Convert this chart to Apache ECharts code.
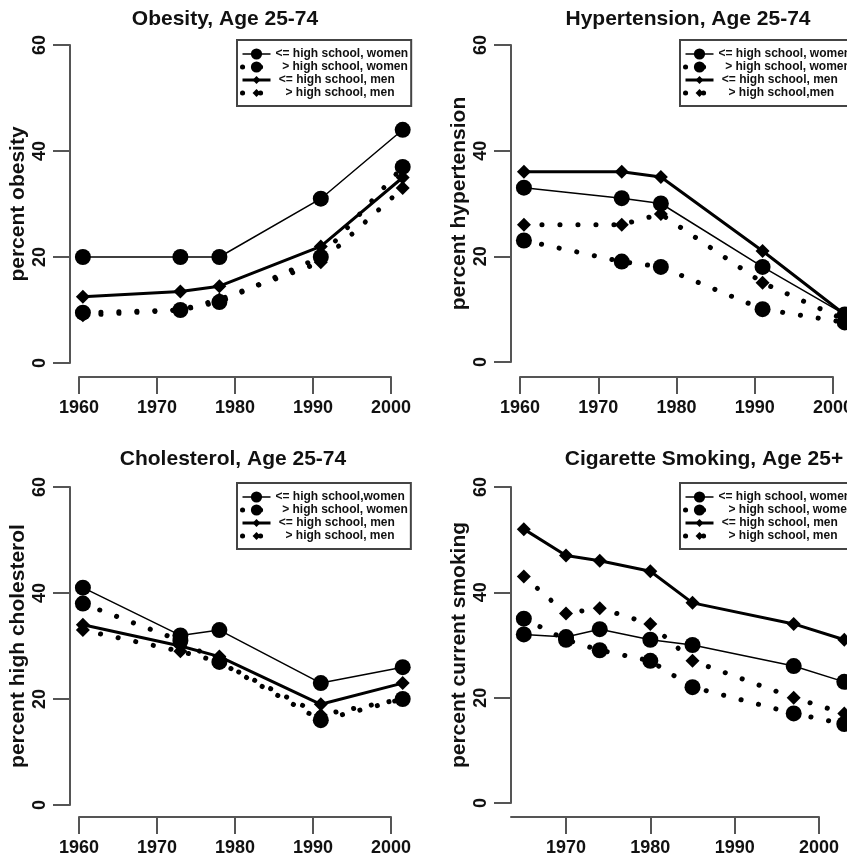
<!DOCTYPE html>
<html><head><meta charset="utf-8">
<script src="https://cdn.jsdelivr.net/npm/echarts@6/dist/echarts.min.js"></script>
<style>html,body{margin:0;padding:0;background:#fff}#c{width:847px;height:859px}</style>
</head><body><div id="c"></div>
<script>
// ---------------- data ----------------
const yearsSurvey = [1960.5, 1973, 1978, 1991, 2001.5];
const yearsSmoking = [1965, 1970, 1974, 1980, 1985, 1997, 2003];
const tickYears = [1960, 1970, 1980, 1990, 2000];
const tickYearsSmoking = [1970, 1980, 1990, 2000];
const tickPercent = [0, 20, 40, 60];

const titles = ['Obesity, Age 25-74', 'Hypertension, Age 25-74', 'Cholesterol, Age 25-74', 'Cigarette Smoking, Age 25+'];
const yTitles = ['percent obesity', 'percent hypertension', 'percent high cholesterol', 'percent current smoking'];

const obesityLegend = ['<= high school, women', '  > high school, women', ' <= high school, men', '   > high school, men'];
const hypertensionLegend = ['<= high school, women', '  > high school, women', ' <= high school, men', '   > high school,men'];
const cholesterolLegend = ['<= high school,women', '  > high school, women', ' <= high school, men', '   > high school, men'];
const smokingLegend = ['<= high school, women', '   > high school, women', ' <= high school, men', '   > high school, men'];

const obesityLowWomen = [20, 20, 20, 31, 44];
const obesityHighWomen = [9.5, 10, 11.5, 20, 37];
const obesityLowMen = [12.5, 13.5, 14.5, 22, 35];
const obesityHighMen = [9, 10, 12, 19, 33];

const hypertensionLowWomen = [33, 31, 30, 18, 9];
const hypertensionHighWomen = [23, 19, 18, 10, 7.5];
const hypertensionLowMen = [36, 36, 35, 21, 9];
const hypertensionHighMen = [26, 26, 28, 15, 8];

const cholesterolLowWomen = [41, 32, 33, 23, 26];
const cholesterolHighWomen = [38, 31, 27, 16, 20];
const cholesterolLowMen = [34, 30, 28, 19, 23];
const cholesterolHighMen = [33, 29, 27, 17, 20];

const smokingLowWomen = [32, 31.5, 33, 31, 30, 26, 23];
const smokingHighWomen = [35, 31, 29, 27, 22, 17, 15];
const smokingLowMen = [52, 47, 46, 44, 38, 34, 31];
const smokingHighMen = [43, 36, 37, 34, 27, 20, 17];

// ---------------- layout ----------------
const FONT = "'Liberation Sans', Arial, Helvetica, sans-serif";
const panels = [
  {axisX: 70, top: 45, bottom: 363, px0: 79, px1: 391, lineLeft: 79, lineRight: 391, lineY: 377,
   ticks: tickYears, titleX: 225, titleY: 9, legendX: 237, legendY: 40,
   x: yearsSurvey, legend: obesityLegend,
   series: [obesityLowWomen, obesityHighWomen, obesityLowMen, obesityHighMen]},
  {axisX: 511, top: 45, bottom: 362, px0: 520, px1: 833, lineLeft: 520, lineRight: 833, lineY: 377,
   ticks: tickYears, titleX: 688, titleY: 9, legendX: 680, legendY: 40,
   x: yearsSurvey, legend: hypertensionLegend,
   series: [hypertensionLowWomen, hypertensionHighWomen, hypertensionLowMen, hypertensionHighMen]},
  {axisX: 70, top: 487, bottom: 805, px0: 79, px1: 391, lineLeft: 79, lineRight: 391, lineY: 817,
   ticks: tickYears, titleX: 233, titleY: 449, legendX: 237, legendY: 483,
   x: yearsSurvey, legend: cholesterolLegend,
   series: [cholesterolLowWomen, cholesterolHighWomen, cholesterolLowMen, cholesterolHighMen]},
  {axisX: 511, top: 487, bottom: 803, px0: 566, px1: 819, lineLeft: 511, lineRight: 819, lineY: 817,
   ticks: tickYearsSmoking, titleX: 704, titleY: 449, legendX: 680, legendY: 483,
   x: yearsSmoking, legend: smokingLegend,
   series: [smokingLowWomen, smokingHighWomen, smokingLowMen, smokingHighMen]}
];

const DIAMOND = 'path://M0,0M20,20M10,3L17,10L10,17L3,10Z';
const styles = [
  {lineStyle: {width: 1.5, color: '#000', type: 'solid'}, symbol: 'circle', symbolSize: 16},
  {lineStyle: {width: 5, color: '#000', type: [0.1, 17.9], cap: 'round'}, symbol: 'circle', symbolSize: 16},
  {lineStyle: {width: 3, color: '#000', type: 'solid'}, symbol: DIAMOND, symbolSize: 20},
  {lineStyle: {width: 5, color: '#000', type: [0.1, 17.9], cap: 'round'}, symbol: DIAMOND, symbolSize: 20}
];

const axisColor = '#555';
const plain = v => String(v);
const grid = [], xAxis = [], yAxis = [], series = [], title = [], legend = [];

panels.forEach((p, i) => {
  const scale = (p.px1 - p.px0) / (p.ticks[p.ticks.length - 1] - p.ticks[0]);
  const t0 = p.ticks[0];
  const gridW = 360;
  const xmin = t0 - (p.px0 - p.axisX) / scale;
  // data grid
  grid.push({left: p.axisX, top: p.top, width: gridW, height: p.bottom - p.top, containLabel: false, outerBoundsMode: 'none'});
  xAxis.push({gridIndex: 2 * i, type: 'value', min: xmin, max: xmin + gridW / scale, show: false});
  yAxis.push({
    gridIndex: 2 * i, type: 'value', min: 0, max: 60, interval: 20,
    name: yTitles[i], nameLocation: 'middle', nameRotate: 90, nameGap: 41,
    nameTextStyle: {fontSize: 21, fontWeight: 'bold', color: '#111', fontFamily: FONT},
    axisLine: {show: true, lineStyle: {color: axisColor, width: 2}},
    axisTick: {show: true, inside: false, length: 17, lineStyle: {color: axisColor, width: 2}, customValues: tickPercent},
    axisLabel: {show: true, rotate: 90, margin: 21, fontSize: 18, fontWeight: 'bold', color: '#111', fontFamily: FONT,
                customValues: tickPercent, showMinLabel: true, showMaxLabel: true, formatter: plain},
    splitLine: {show: false}
  });
  // x-axis grid
  grid.push({left: p.lineLeft, top: p.lineY - 1, width: p.lineRight - p.lineLeft, height: 1, containLabel: false, outerBoundsMode: 'none'});
  xAxis.push({
    gridIndex: 2 * i + 1, type: 'value', position: 'bottom',
    min: t0 - (p.px0 - p.lineLeft) / scale, max: t0 + (p.lineRight - p.px0) / scale,
    axisLine: {show: true, lineStyle: {color: axisColor, width: 2}},
    axisTick: {show: true, inside: false, length: 17, lineStyle: {color: axisColor, width: 2}, customValues: p.ticks},
    axisLabel: {show: true, margin: 22, fontSize: 18, fontWeight: 'bold', color: '#111', fontFamily: FONT,
                customValues: p.ticks, showMinLabel: true, showMaxLabel: true, formatter: plain},
    splitLine: {show: false}
  });
  yAxis.push({gridIndex: 2 * i + 1, type: 'value', show: false});

  title.push({text: titles[i], left: p.titleX, top: p.titleY, textAlign: 'center', padding: 0,
    textStyle: {fontSize: 21, fontWeight: 'bold', color: '#111', fontFamily: FONT}});

  legend.push({
    orient: 'vertical', left: p.legendX, top: p.legendY, padding: [8, 3, 7, 3],
    itemWidth: 28, itemHeight: 14, itemGap: 1, selectedMode: false,
    borderColor: '#444', borderWidth: 2, backgroundColor: '#fff',
    lineStyle: {width: 'inherit'},
    textStyle: {fontSize: 12, fontWeight: 'bold', color: '#111', fontFamily: FONT},
    data: p.legend
  });

  p.series.forEach((vals, k) => {
    const st = styles[k];
    series.push({
      type: 'line', name: p.legend[k], xAxisIndex: 2 * i, yAxisIndex: 2 * i,
      data: p.x.map((xv, j) => [xv, vals[j]]),
      symbol: st.symbol, symbolSize: st.symbolSize,
      lineStyle: st.lineStyle, itemStyle: {color: '#000', borderWidth: 0},
      clip: false, silent: true, animation: false
    });
  });
});

const chart = echarts.init(document.getElementById('c'), null, {renderer: 'canvas'});
chart.setOption({backgroundColor: '#fff', animation: false, title, legend, grid, xAxis, yAxis, series});
</script></body></html>
